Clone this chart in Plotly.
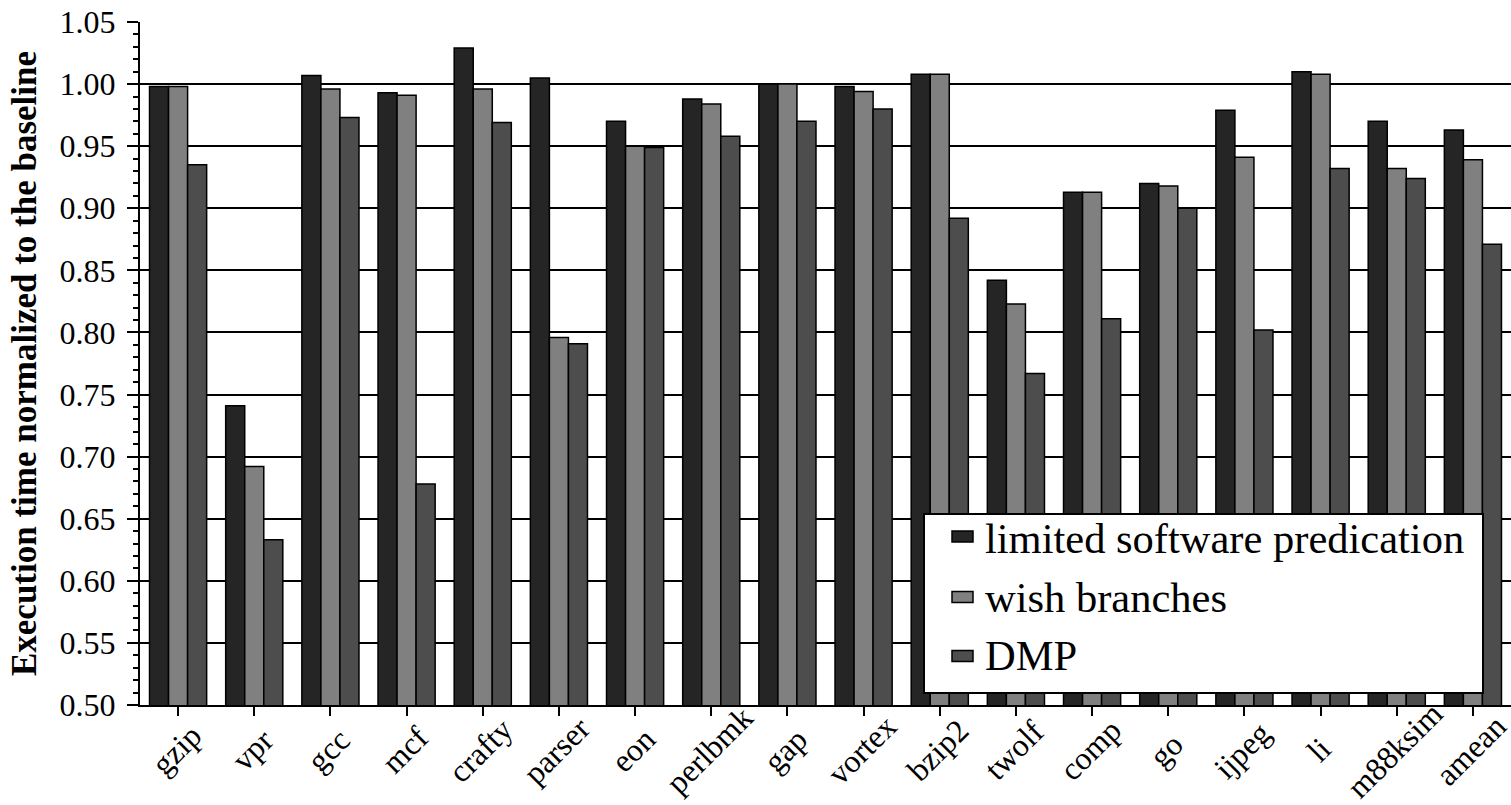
import plotly.graph_objects as go

benchmarks = ["gzip", "vpr", "gcc", "mcf", "crafty", "parser", "eon", "perlbmk", "gap",
              "vortex", "bzip2", "twolf", "comp", "go", "ijpeg", "li", "m88ksim", "amean"]

limited_pred = [0.998, 0.741, 1.007, 0.993, 1.029, 1.005, 0.970, 0.988, 1.000,
                0.998, 1.008, 0.842, 0.913, 0.920, 0.979, 1.010, 0.970, 0.963]
wish_branches = [0.998, 0.692, 0.996, 0.991, 0.996, 0.796, 0.950, 0.984, 1.000,
                 0.994, 1.008, 0.823, 0.913, 0.918, 0.941, 1.008, 0.932, 0.939]
dmp = [0.935, 0.633, 0.973, 0.678, 0.969, 0.791, 0.949, 0.958, 0.970,
       0.980, 0.892, 0.767, 0.811, 0.900, 0.802, 0.932, 0.924, 0.871]

series_names = ["limited software predication", "wish branches", "DMP"]
series_values = [limited_pred, wish_branches, dmp]
series_colors = ["#252525", "#808080", "#4d4d4d"]

FONT = "Liberation Serif, Times New Roman, serif"

# figure / plot-area geometry in pixels
W, H = 1511, 805
ML, MR, MT, MB = 140, 0, 22, 100
PW, PH = W - ML - MR, H - MT - MB


def px_x(px):
    return (px - ML) / PW


def px_y(py):
    return (H - MB - py) / PH


fig = go.Figure()
for name, vals, color in zip(series_names, series_values, series_colors):
    fig.add_trace(go.Bar(
        x=benchmarks, y=vals, name=name, showlegend=False,
        marker=dict(color=color, line=dict(color="black", width=1.5)),
    ))

shapes = []
annotations = []

# rotated category labels, centred under each tick
for b in benchmarks:
    annotations.append(dict(
        x=b, xref="x", y=px_y(750), yref="paper", xshift=-2,
        text=b, textangle=-45, showarrow=False,
        xanchor="center", yanchor="middle",
        font=dict(family=FONT, size=32, color="black"),
    ))

# boxed legend inside the lower-right of the plot
shapes.append(dict(
    type="rect", xref="paper", yref="paper",
    x0=px_x(924), x1=px_x(1483), y0=px_y(693), y1=px_y(514),
    fillcolor="white", line=dict(color="black", width=2), layer="above",
))
row_symbol_y = [536.5, 597, 656]
row_text_y = [538, 597, 655]
for name, color, sy, ty in zip(series_names, series_colors, row_symbol_y, row_text_y):
    shapes.append(dict(
        type="rect", xref="paper", yref="paper",
        x0=px_x(952), x1=px_x(973), y0=px_y(sy + 5.5), y1=px_y(sy - 5.5),
        fillcolor=color, line=dict(color="black", width=1.5), layer="above",
    ))
    annotations.append(dict(
        x=px_x(983), xref="paper", y=px_y(ty), yref="paper",
        text=name, showarrow=False, xanchor="left", yanchor="middle",
        font=dict(family=FONT, size=42.5, color="black"),
    ))

fig.update_layout(
    width=W, height=H,
    margin=dict(l=ML, r=MR, t=MT, b=MB),
    paper_bgcolor="white", plot_bgcolor="white",
    barmode="group", bargap=0.25, bargroupgap=0,
    font=dict(family=FONT, color="black"),
    showlegend=False,
    shapes=shapes, annotations=annotations,
)

fig.update_xaxes(
    type="category", range=[-0.5, 17.5], automargin=False,
    showline=True, linecolor="black", linewidth=2,
    ticks="outside", ticklen=9, tickwidth=2, tickcolor="black",
    showticklabels=False,
    showgrid=False, zeroline=False,
)

fig.update_yaxes(
    range=[0.5, 1.05], tick0=0.5, dtick=0.05, tickformat=".2f", automargin=False,
    showline=True, linecolor="black", linewidth=2,
    ticks="outside", ticklen=11, tickwidth=2, tickcolor="black",
    tickfont=dict(family=FONT, size=32, color="black"), ticklabelstandoff=5,
    showgrid=True, gridcolor="black", gridwidth=2,
    minor=dict(dtick=0.01, ticks="outside", ticklen=5, tickwidth=1.5,
               tickcolor="black", showgrid=False),
    zeroline=False,
    title=dict(text="<b>Execution time normalized to the baseline</b>",
               font=dict(family=FONT, size=35, color="black"), standoff=12),
)

fig.write_html("out.html")
